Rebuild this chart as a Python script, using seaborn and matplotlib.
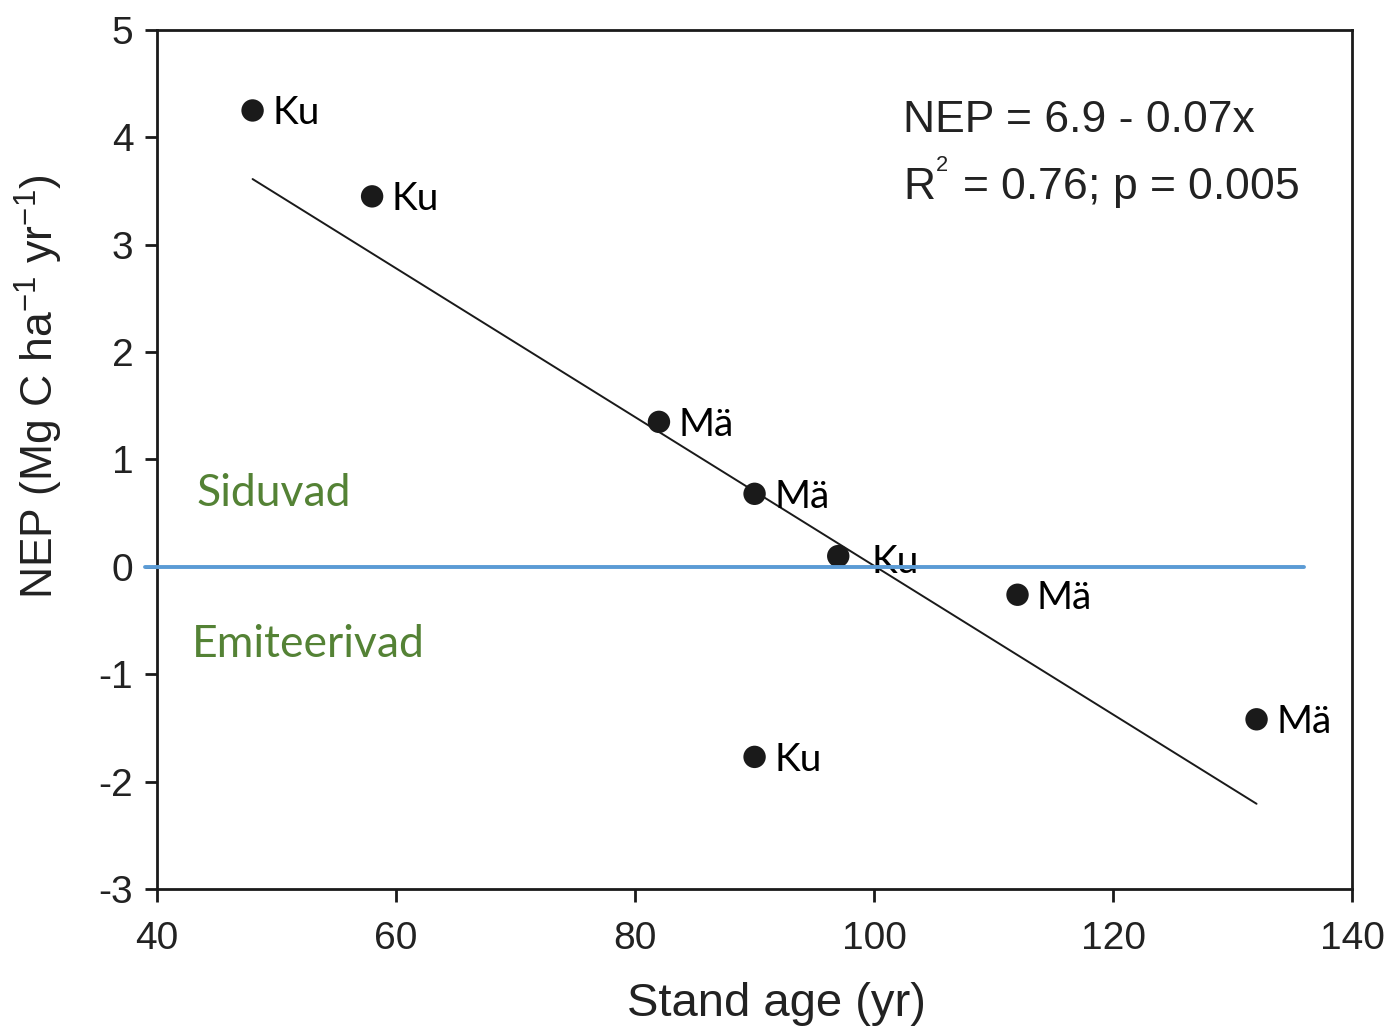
import matplotlib
matplotlib.use("Agg")
import matplotlib.pyplot as plt
import seaborn as sns
import pandas as pd

# stand data
stand_age = [48, 58, 82, 90, 97, 112, 132, 90]
nep = [4.25, 3.45, 1.35, 0.68, 0.10, -0.26, -1.42, -1.77]
site = ["Ku", "Ku", "Mä", "Mä", "Ku", "Mä", "Mä", "Ku"]

x_ticks = [40, 60, 80, 100, 120, 140]
y_ticks = [-3, -2, -1, 0, 1, 2, 3, 4, 5]

df = pd.DataFrame({"age": stand_age, "nep": nep, "site": site})

sns.set_style("ticks")
plt.rcParams["font.family"] = ["Liberation Sans", "DejaVu Sans"]
plt.rcParams["mathtext.default"] = "regular"
plt.rcParams["axes.unicode_minus"] = False

fig = plt.figure(figsize=(13.94, 10.32), dpi=100)
ax = fig.add_axes([0.1126, 0.1386, 0.8574, 0.8324])

# regression line fitted to the points
sns.regplot(data=df, x="age", y="nep", scatter=False, ci=None, truncate=True,
            color="#1a1a1a", line_kws={"linewidth": 1.4}, ax=ax)

sns.scatterplot(data=df, x="age", y="nep", color="#1a1a1a", s=260,
                edgecolor="none", ax=ax, zorder=3)

label_font = ["Lato", "DejaVu Sans"]
for a, v, s in zip(stand_age, nep, site):
    dx, dy = (24, -4) if (a, s) == (97, "Ku") else (14, -2)
    ax.annotate(s, (a, v), xytext=(dx, dy), textcoords="offset points",
                ha="left", va="center", fontsize=28, family=label_font,
                color="black", zorder=4)

# zero line
ax.plot([39, 136], [0, 0], color="#5b9bd5", linewidth=2.8, clip_on=False, zorder=5)

ax.text(102.4, 4.16, "NEP = 6.9 - 0.07x", fontsize=32, color="#222222", va="center")
ax.text(102.4, 3.58, r"R$^{^2}$ = 0.76; p = 0.005", fontsize=32, color="#222222", va="center")

ax.text(43.3, 0.68, "Siduvad", fontsize=32, family=label_font, color="#548235", va="center")
ax.text(42.9, -0.72, "Emiteerivad", fontsize=32, family=label_font, color="#548235", va="center")

ax.set_xlim(40, 140)
ax.set_ylim(-3, 5)
ax.set_xticks(x_ticks)
ax.set_yticks(y_ticks)
ax.tick_params(axis="both", direction="out", length=9, width=2, labelsize=28,
               labelcolor="#222222", color="#1a1a1a", pad=8)
ax.tick_params(axis="x", pad=14)
for sp in ax.spines.values():
    sp.set_linewidth(2)
    sp.set_color("#1a1a1a")

ax.set_xlabel("Stand age (yr)", fontsize=34, color="#222222")
ax.set_ylabel(r"NEP (Mg C ha$^{-1}$ yr$^{-1}$)", fontsize=32, color="#222222")
ax.xaxis.set_label_coords(0.518, -0.108)
ax.yaxis.set_label_coords(-0.077, 0.585)

fig.savefig("out.png", dpi=100)
